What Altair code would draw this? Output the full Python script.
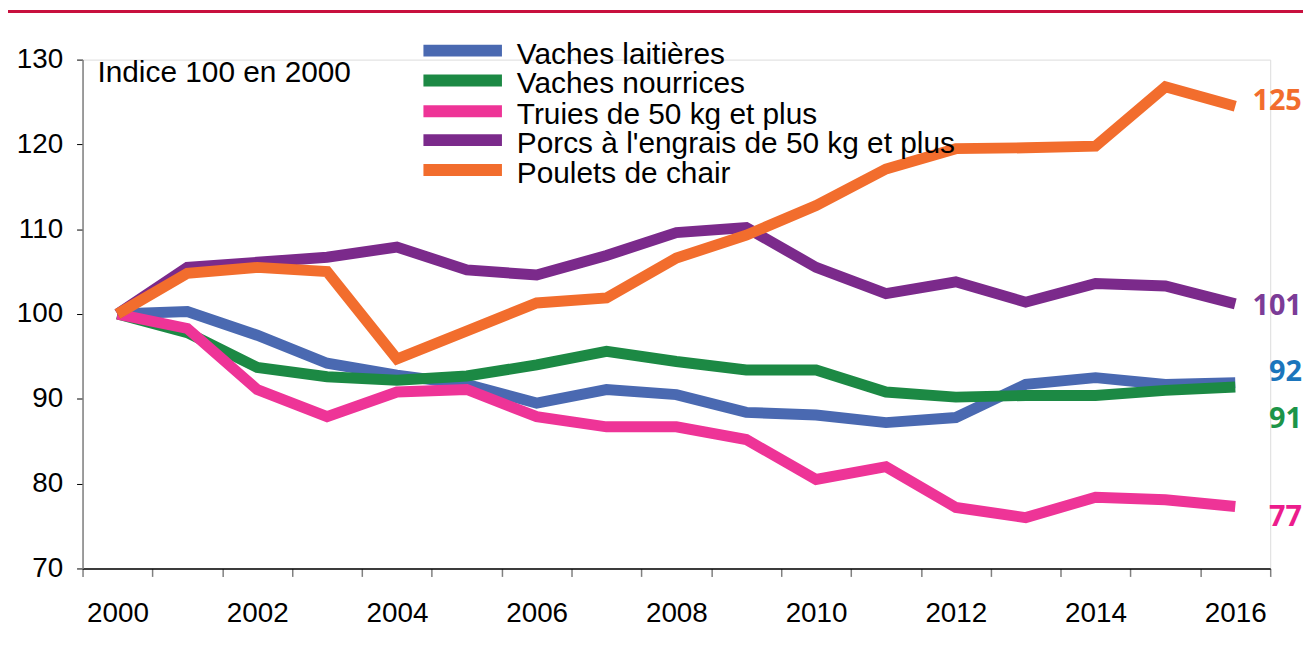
import altair as alt
import pandas as pd

years = list(range(2000, 2017))
series = ["Vaches laitières", "Vaches nourrices", "Truies de 50 kg et plus",
          "Porcs à l'engrais de 50 kg et plus", "Poulets de chair"]
vaches_laitieres = [100, 100.3, 97.5, 94.2, 92.8, 91.7, 89.5, 91.1, 90.5, 88.4, 88.1, 87.2, 87.8, 91.7, 92.5, 91.7, 91.9]
vaches_nourrices = [100, 97.8, 93.7, 92.6, 92.2, 92.7, 94.0, 95.6, 94.4, 93.4, 93.4, 90.8, 90.2, 90.4, 90.4, 91.0, 91.4]
truies = [100, 98.3, 91.1, 87.9, 90.8, 91.1, 87.9, 86.7, 86.7, 85.2, 80.5, 82.0, 77.2, 76.0, 78.4, 78.1, 77.3]
porcs = [100, 105.5, 106.1, 106.7, 107.9, 105.2, 104.6, 106.9, 109.6, 110.2, 105.5, 102.4, 103.8, 101.4, 103.6, 103.3, 101.2]
poulets = [100, 104.8, 105.5, 105.0, 94.7, 98.0, 101.3, 101.9, 106.6, 109.3, 112.8, 117.1, 119.5, 119.6, 119.8, 126.8, 124.5]
end_labels = ["92", "91", "77", "101", "125"]
note = "Indice 100 en 2000"
y_ticks = [70, 80, 90, 100, 110, 120, 130]

# styling
line_colors = ["#4A69B1", "#1C8944", "#EE3497", "#7B2A8B", "#F26D2D"]
label_colors = ["#1B75BC", "#1C9448", "#EC1C8C", "#7B3C97", "#F26D2D"]
label_dy = [-11, 32, 11, 2, -5]
label_dx = [67, 67, 67, 67, 67]
W, H = 1195, 512

values = [vaches_laitieres, vaches_nourrices, truies, porcs, poulets]
rows = []
for s, vals in zip(series, values):
    for yr, v in zip(years, vals):
        rows.append({"serie": s, "year": yr, "value": v})
df = pd.DataFrame(rows)

x_enc = alt.X(
    "year:O",
    bandPosition=0.5,
    scale=alt.Scale(type="band", paddingInner=0, paddingOuter=0),
    axis=alt.Axis(
        title=None, tickBand="extent", labelAngle=0, labelOverlap=False,
        labelExpr="datum.value % 2 == 0 ? datum.label : ''",
        labelFont="Liberation Sans", labelFontSize=28, labelColor="black",
        labelPadding=23, tickSize=8, tickColor="#808080", tickWidth=1.5,
        domainColor="black", domainWidth=1.5,
    ),
)
y_enc = alt.Y(
    "value:Q",
    scale=alt.Scale(domain=[70, 130], nice=False, zero=False),
    axis=alt.Axis(
        title=None, values=y_ticks, grid=False,
        labelFont="Liberation Sans", labelFontSize=28, labelColor="black",
        labelPadding=14, tickSize=6, tickColor="black", tickWidth=1,
        domainColor="#808080", domainWidth=1.5,
    ),
)

base = alt.Chart(df)
layers = []

# top crimson band
layers.append(
    alt.Chart(pd.DataFrame({"a": [0]})).mark_rect(color="#C8103E").encode(
        x=alt.value(-80), x2=alt.value(W + 60), y=alt.value(-50), y2=alt.value(-47)
    )
)

for i, s in enumerate(series):
    layers.append(
        base.transform_filter(alt.datum.serie == s)
        .mark_line(color=line_colors[i], strokeWidth=11, strokeCap="butt", strokeJoin="miter")
        .encode(x=x_enc, y=y_enc, order="year:O")
    )

for i, s in enumerate(series):
    ldf = pd.DataFrame({"serie": [s], "year": [years[-1]], "value": [values[i][-1]], "lab": [end_labels[i]]})
    layers.append(
        alt.Chart(ldf).mark_text(
            font="Open Sans", fontWeight="bold", fontSize=29, color=label_colors[i],
            align="right", baseline="middle", dx=label_dx[i], dy=label_dy[i]
        ).encode(x=x_enc, y=y_enc, text="lab:N")
    )

# manual legend
leg_y = [-9, 21, 52, 81, 111]
for i, s in enumerate(series):
    ldf = pd.DataFrame({"serie": [s]})
    layers.append(
        alt.Chart(ldf).mark_rule(color=line_colors[i], strokeWidth=12, strokeCap="butt").encode(
            x=alt.value(343), x2=alt.value(422), y=alt.value(leg_y[i])
        )
    )
    layers.append(
        alt.Chart(ldf).mark_text(
            font="Liberation Sans", fontSize=30, color="black", align="left", baseline="alphabetic"
        ).encode(x=alt.value(437), y=alt.value(leg_y[i] + 13), text="serie:N")
    )

layers.append(
    alt.Chart(pd.DataFrame({"t": [note]})).mark_text(
        font="Liberation Sans", fontSize=30, color="black", align="left", baseline="alphabetic"
    ).encode(x=alt.value(15), y=alt.value(23), text="t:N")
)

chart = alt.layer(*layers).properties(
    width=W, height=H,
    autosize=alt.AutoSizeParams(type="none"),
    padding={"left": 75, "top": 50, "right": 33, "bottom": 60},
).configure_view(stroke=None).configure(background="white")

chart.save("out.html", embed_options={"renderer": "svg", "actions": False})
